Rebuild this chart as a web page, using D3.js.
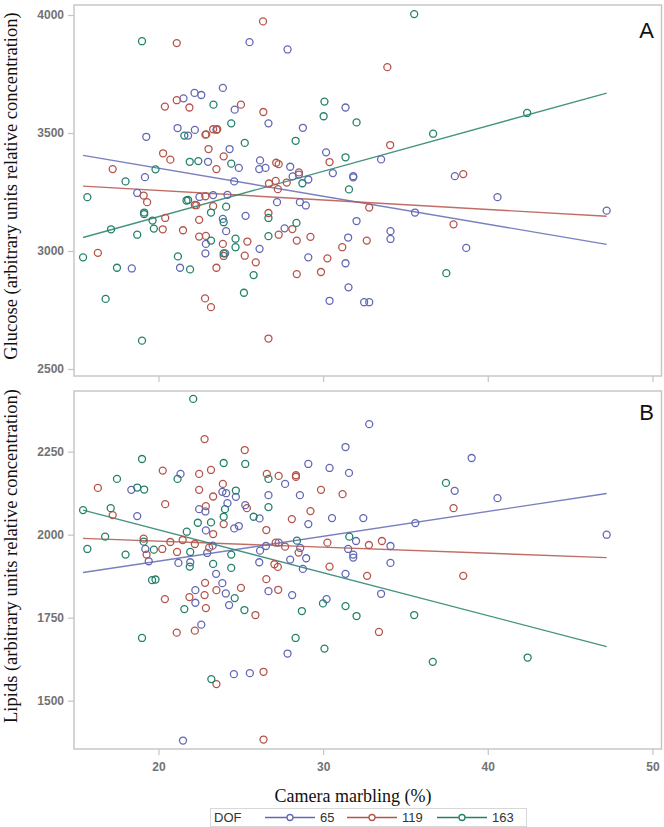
<!DOCTYPE html>
<html><head><meta charset="utf-8">
<script src="https://cdn.jsdelivr.net/npm/d3@7"></script>
<style>body{margin:0;background:#fff}svg{display:block}</style>
</head><body>
<svg id="c" width="664" height="827"></svg>
<script>
// ---------- DATA ----------
const groups = ["65", "119", "163"];
const groupColors = ["#6268b4", "#b5544a", "#23806a"];
const xTicks = [20, 30, 40, 50];
const glucoseTicks = [2500, 3000, 3500, 4000];
const lipidTicks = [1500, 1750, 2000, 2250];
const fitX = [15.42, 47.22];

// Panel A: Glucose, [marbling %, value]
const glucose65 = [[25.53,3885],[27.84,3854],[23.91,3691],[22.19,3670],[22.6,3661],[21.52,3647],[24.63,3599],[31.36,3608],[26.68,3541],[21.16,3521],[22.21,3513],[23.52,3514],[19.26,3484],[21.8,3489],[28.77,3522],[24.32,3432],[30.18,3418],[26.17,3384],[23.01,3378],[28.0,3357],[24.88,3352],[26.12,3347],[26.5,3352],[30.59,3330],[31.83,3317],[31.83,3312],[28.15,3316],[28.53,3324],[29.1,3303],[33.52,3388],[38.0,3317],[19.18,3313],[24.6,3295],[18.71,3246],[22.49,3229],[23.32,3237],[24.19,3238],[27.2,3207],[28.59,3207],[28.95,3193],[40.59,3228],[47.22,3171],[35.58,3163],[32.03,3127],[25.29,3149],[23.91,3136],[24.11,3084],[27.66,3096],[34.09,3084],[34.09,3051],[31.52,3057],[22.88,3030],[22.85,2990],[26.14,3009],[29.1,2973],[38.69,3013],[18.38,2926],[21.31,2929],[31.36,2948],[31.54,2846],[30.39,2789],[32.49,2783],[32.8,2783],[24.05,2990]];
const glucose119 = [[26.35,3973],[21.11,3881],[33.9,3779],[21.11,3639],[20.39,3612],[21.88,3608],[25.01,3620],[26.37,3589],[22.85,3493],[22.9,3494],[23.32,3516],[23.57,3516],[23.04,3432],[20.28,3414],[20.72,3387],[23.96,3401],[23.52,3347],[17.22,3347],[27.15,3374],[27.3,3368],[30.39,3377],[34.07,3449],[28.53,3333],[38.51,3326],[26.71,3286],[27.12,3297],[27.79,3290],[27.25,3262],[19.1,3235],[19.31,3207],[22.85,3232],[22.21,3195],[22.3,3194],[23.32,3190],[32.8,3184],[20.41,3140],[22.47,3132],[26.68,3161],[20.26,3092],[21.49,3088],[28.13,3093],[27.3,3069],[37.92,3113],[22.47,3061],[22.88,3064],[23.91,3030],[25.4,3040],[28.4,3044],[29.23,3060],[32.65,3044],[31.16,3016],[16.32,2992],[23.96,2979],[25.24,2980],[30.26,2969],[25.91,2952],[23.52,2929],[28.4,2902],[29.87,2911],[22.83,2799],[23.19,2762],[26.68,2629]];
const glucose163 = [[35.53,4004],[19.0,3889],[23.34,3620],[30.08,3633],[30.03,3571],[32.03,3545],[24.42,3541],[21.57,3489],[42.39,3585],[36.68,3497],[28.33,3467],[25.24,3458],[19.82,3346],[21.9,3378],[22.42,3381],[24.42,3370],[31.36,3397],[18.0,3295],[15.68,3228],[31.57,3261],[21.7,3214],[21.8,3216],[24.11,3188],[19.13,3163],[19.13,3156],[23.19,3163],[19.64,3129],[23.96,3122],[26.68,3140],[28.74,3287],[28.38,3119],[17.12,3092],[19.72,3095],[18.71,3069],[23.19,3044],[24.68,3052],[24.68,3016],[26.68,3063],[23.96,2990],[15.42,2973],[21.18,2977],[17.48,2929],[21.92,2922],[25.78,2898],[25.19,2823],[16.79,2797],[37.48,2906],[19.0,2620]];
const glucoseFit65 = [3405, 3028];
const glucoseFit119 = [3275, 3147];
const glucoseFit163 = [3057, 3669];

// Panel B: Lipids
const lipids65 = [[32.8,2333],[31.36,2264],[39.02,2231],[29.1,2213],[30.39,2201],[31.57,2186],[21.34,2183],[27.69,2153],[18.35,2135],[23.88,2129],[24.11,2125],[37.99,2132],[26.68,2119],[28.59,2119],[24.7,2114],[40.59,2110],[24.19,2095],[25.27,2089],[22.47,2077],[22.85,2070],[18.71,2056],[26.14,2049],[30.54,2050],[32.44,2050],[29.1,2032],[35.6,2035],[24.88,2026],[24.6,2019],[22.88,2013],[47.22,2000],[32.0,1981],[34.09,1966],[26.53,1966],[23.29,1967],[27.3,1976],[19.2,1957],[31.52,1957],[28.61,1960],[26.17,1952],[22.96,1945],[31.83,1940],[31.83,1931],[28.97,1929],[19.41,1920],[21.21,1915],[21.93,1917],[26.12,1917],[28.0,1925],[34.09,1915],[28.77,1897],[23.5,1882],[31.36,1882],[23.88,1854],[22.24,1833],[24.09,1823],[26.68,1830],[28.12,1818],[33.52,1822],[30.21,1806],[22.24,1795],[24.29,1788],[22.6,1729],[27.84,1642],[24.58,1580],[25.55,1583],[21.49,1380]];
const lipids119 = [[22.8,2288],[25.24,2255],[20.26,2193],[22.47,2183],[23.19,2195],[26.58,2183],[27.3,2177],[28.35,2179],[28.35,2174],[16.32,2141],[23.91,2153],[22.47,2135],[29.87,2135],[31.18,2122],[23.32,2115],[20.41,2092],[22.88,2086],[25.37,2080],[37.92,2080],[29.23,2071],[17.22,2059],[28.1,2047],[23.96,2032],[26.55,2014],[23.32,2002],[19.1,1988],[21.47,1984],[20.72,1978],[20.23,1957],[22.21,1972],[23.08,1961],[27.12,1976],[30.26,1976],[33.57,1981],[32.78,1969],[27.69,1964],[21.13,1948],[28.51,1946],[19.28,1940],[27.04,1911],[27.25,1903],[30.39,1904],[32.67,1876],[38.51,1876],[22.83,1855],[26.55,1866],[23.52,1833],[25.01,1840],[27.27,1834],[22.8,1818],[21.88,1812],[20.39,1806],[22.88,1779],[25.89,1758],[21.11,1705],[22.21,1711],[33.39,1707],[26.38,1587],[23.52,1550],[26.38,1383]];
const lipids163 = [[22.11,2409],[19.0,2228],[23.96,2216],[25.27,2213],[17.48,2168],[21.16,2168],[26.68,2168],[18.71,2142],[19.13,2136],[24.7,2133],[37.46,2156],[15.42,2074],[17.1,2080],[24.04,2077],[26.68,2083],[25.78,2054],[23.96,2054],[22.39,2036],[23.19,2037],[16.76,1994],[21.72,2009],[31.59,1994],[19.1,1979],[28.41,1982],[15.68,1957],[19.72,1955],[18.0,1940],[21.93,1948],[24.42,1940],[23.32,1912],[21.9,1904],[24.42,1900],[19.61,1863],[19.82,1865],[24.63,1809],[21.57,1776],[25.22,1773],[28.71,1770],[29.99,1793],[31.36,1785],[32.03,1755],[35.53,1758],[19.0,1689],[28.33,1689],[30.08,1657],[42.42,1630],[36.66,1617],[23.21,1565]];
const lipidsFit65 = [1886, 2124];
const lipidsFit119 = [1989, 1931];
const lipidsFit163 = [2074, 1663];

// ---------- DRAW ----------
const svg = d3.select("#c");
const L = 74, R = 661.5;
const x = d3.scaleLinear().domain([14.87, 50.55]).range([L, R]);

const panels = [
  {top: 5, bottom: 376, domain: [2470.3, 4042.4], ticks: glucoseTicks, letter: "A",
   title: "Glucose (arbitrary units relative concentration)", titleY: 186, xLabels: false,
   series: [glucose65, glucose119, glucose163], fits: [glucoseFit65, glucoseFit119, glucoseFit163]},
  {top: 391, bottom: 749, domain: [1354.5, 2432.8], ticks: lipidTicks, letter: "B",
   title: "Lipids (arbitrary units relative concentration)", titleY: 556, xLabels: true,
   series: [lipids65, lipids119, lipids163], fits: [lipidsFit65, lipidsFit119, lipidsFit163]}
];

const frameColor = "#c4c4c4";
const tickFont = "Liberation Sans, Arial, sans-serif";

panels.forEach(p => {
  const y = d3.scaleLinear().domain(p.domain).range([p.bottom, p.top]);
  svg.append("rect").attr("x", L).attr("y", p.top).attr("width", R - L).attr("height", p.bottom - p.top)
    .attr("fill", "none").attr("stroke", frameColor).attr("stroke-width", 1.4);
  const ya = svg.append("g").attr("transform", `translate(${L},0)`)
    .call(d3.axisLeft(y).tickValues(p.ticks).tickSize(6).tickPadding(4).tickFormat(d3.format("d")));
  ya.select(".domain").remove();
  ya.selectAll(".tick line").attr("stroke", frameColor).attr("stroke-width", 1.2);
  ya.selectAll(".tick text").attr("font-family", tickFont).attr("font-size", 12)
    .attr("fill", "#505050").attr("font-weight", "bold").attr("opacity", 0.8);
  const xa = svg.append("g").attr("transform", `translate(0,${p.bottom})`)
    .call(d3.axisBottom(x).tickValues(xTicks).tickSize(6).tickPadding(7).tickFormat(p.xLabels ? d3.format("d") : () => ""));
  xa.select(".domain").remove();
  xa.selectAll(".tick line").attr("stroke", frameColor).attr("stroke-width", 1.2);
  xa.selectAll(".tick text").attr("font-family", tickFont).attr("font-size", 12)
    .attr("fill", "#505050").attr("font-weight", "bold").attr("opacity", 0.8);
  svg.append("text").attr("transform", `translate(17,${p.titleY}) rotate(-90)`)
    .attr("text-anchor", "middle").attr("font-family", "Liberation Serif, Times New Roman, serif")
    .attr("font-size", 18.5).attr("fill", "#111").text(p.title);
  svg.append("text").attr("x", 654).attr("y", p.letter === "A" ? 38 : 420).attr("text-anchor", "end")
    .attr("font-family", tickFont).attr("font-size", 22).attr("fill", "#111").text(p.letter);
  const line = d3.line().x(d => x(d[0])).y(d => y(d[1]));
  p.fits.forEach((f, i) => {
    svg.append("path").attr("d", line([[fitX[0], f[0]], [fitX[1], f[1]]]))
      .attr("fill", "none").attr("stroke", groupColors[i]).attr("stroke-width", 1.4).attr("opacity", 0.85);
  });
  p.series.forEach((s, i) => {
    svg.append("g").selectAll("circle").data(s).join("circle")
      .attr("cx", d => x(d[0])).attr("cy", d => y(d[1])).attr("r", 3.5)
      .attr("fill", "none").attr("stroke", groupColors[i]).attr("stroke-width", 1.3);
  });
});

svg.append("text").attr("x", 353).attr("y", 802).attr("text-anchor", "middle")
  .attr("font-family", "Liberation Serif, Times New Roman, serif").attr("font-size", 18)
  .attr("fill", "#111").text("Camera marbling (%)");

const lg = svg.append("g");
lg.append("rect").attr("x", 210.5).attr("y", 808.5).attr("width", 316).attr("height", 18)
  .attr("fill", "none").attr("stroke", "#d8d8d8").attr("stroke-width", 1);
lg.append("text").attr("x", 214).attr("y", 822).attr("font-family", tickFont).attr("font-size", 13)
  .attr("fill", "#333").text("DOF");
const legX = [265, 347, 437];
groups.forEach((g, i) => {
  const x0 = legX[i];
  lg.append("line").attr("x1", x0).attr("x2", x0 + 50).attr("y1", 817.5).attr("y2", 817.5)
    .attr("stroke", groupColors[i]).attr("stroke-width", 1.4);
  lg.append("circle").attr("cx", x0 + 25).attr("cy", 817.5).attr("r", 3)
    .attr("fill", "#fff").attr("stroke", groupColors[i]).attr("stroke-width", 1.3);
  lg.append("text").attr("x", x0 + 55).attr("y", 822).attr("font-family", tickFont).attr("font-size", 13)
    .attr("fill", "#333").text(g);
});
</script>
</body></html>
